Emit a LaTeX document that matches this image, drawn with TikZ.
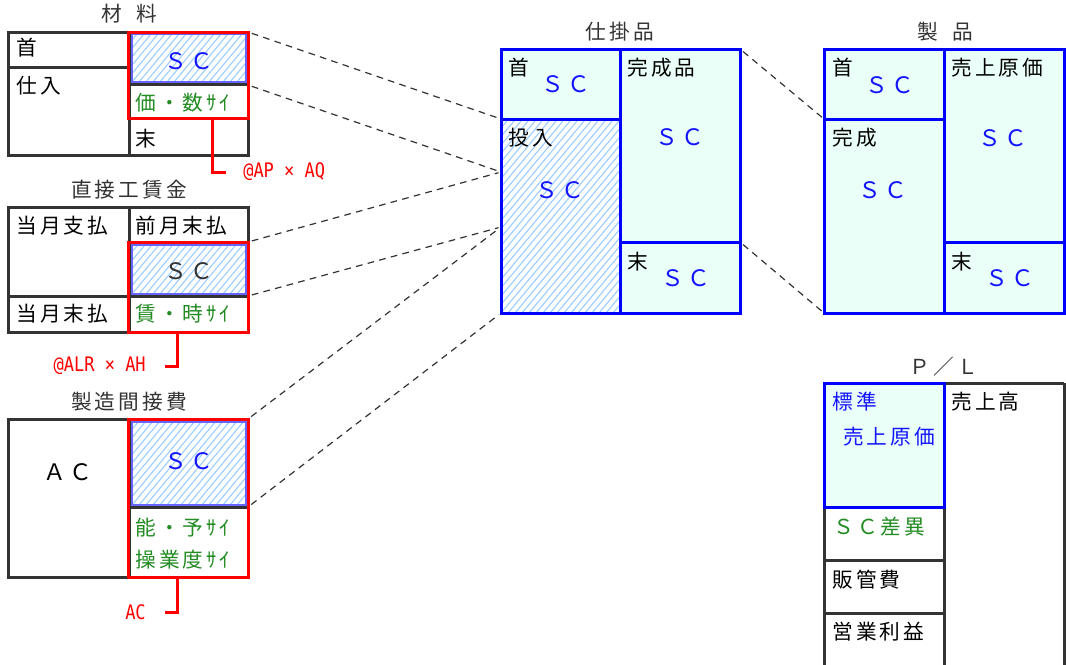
\documentclass[tikz,border=0pt]{standalone}
\usepackage{fontspec}
\usepackage{xcolor}
\usepackage{tikz}
\usetikzlibrary{calc}
\setmainfont[LetterSpace=15]{Noto Sans CJK JP}
\newfontfamily\costfont[FakeStretch=0.85]{DejaVu Sans Mono}
\definecolor{boxgray}{RGB}{51, 51, 51}
\definecolor{scblue}{RGB}{20, 20, 255}
\definecolor{varigreen}{RGB}{34, 139, 34}
\definecolor{costred}{RGB}{255, 0, 0}
\definecolor{mint}{RGB}{234, 255, 248}
\definecolor{hatchblue}{RGB}{153, 204, 255}
\definecolor{hatchedge}{RGB}{102, 102, 255}

\tikzset{
	txt/.style = {inner sep = 0pt, font = \fontsize{15.5}{15.5}\selectfont, text = black},
	lbl/.style = {txt, anchor = west},
	sc/.style = {txt, text = scblue, font = \fontsize{17}{17}\selectfont},
	grn/.style = {lbl, text = varigreen},
	ttl/.style = {txt, text = boxgray},
	cost/.style = {inner sep = 0pt, font = \costfont\fontsize{15}{15}\selectfont, text = costred},
	account/.style = {draw = boxgray, line width = 2.25pt},
	wipbox/.style = {draw = blue, line width = 2.25pt},
	redbox/.style = {draw = costred, line width = 2.25pt},
	hatched/.style = {path picture = {
		\foreach \k in {-25,...,19}
			\draw[hatchblue, line width = 0.8pt] ($(path picture bounding box.south west)+(\k*7,0)$) -- ++(170,-204);
	}},
	hatchline/.style = {draw = hatchedge, line width = 1.5pt},
	link/.style = {draw = boxgray, line width = 0.9pt, dash pattern = on 5pt off 4pt, shorten < = 3pt, shorten > = 2pt},
	tick/.style = {draw = costred, line width = 2.25pt}
}

\begin{document}
\begin{tikzpicture}[x = 0.75pt, y = -0.75pt]
	\clip (0,0) rectangle (1066,664);
	\fill[white] (0,0) rectangle (1066,664);

	% materials
	\node (matTitle) at (129,14) [ttl] {材\hspace{0.7em}料};
	\draw[account] (8,32) rectangle (248,155);
	\draw[account] (129,32) -- (129,155);
	\draw[account] (8,67) -- (129,67);
	\path[hatched, hatchline] (132,34) rectangle (246,82);
	\draw[account] (128,84) -- (248,84);
	\draw[redbox] (128,32) rectangle (248,118);
	\node (matHead) at (16,48) [lbl] {首};
	\node (matBuy) at (16,86) [lbl] {仕入};
	\node (matSC) at (189,61) [sc] {ＳＣ};
	\node (matVar) at (135,103) [grn] {価・数ｻｲ};
	\node (matEnd) at (135,139) [lbl] {末};
	\coordinate (matTick) at (212,118);
	\coordinate (matBend) at (226,172);
	\draw[tick] (matTick) |- (matBend);
	\node (matCost) at (243,172) [cost, anchor = west] {@AP × AQ};

	% direct labour
	\node (labTitle) at (129,190) [ttl] {直接工賃金};
	\draw[account] (8,207) rectangle (248,332);
	\draw[account] (129,207) -- (129,332);
	\draw[account] (8,296) -- (248,296);
	\path[hatched, hatchline] (132,245) rectangle (246,294);
	\draw[redbox] (128,242) rectangle (248,332);
	\node (labPaid) at (16,226) [lbl] {当月支払};
	\node (labPrev) at (135,226) [lbl] {前月末払};
	\node (labSC) at (189,271) [sc, text = boxgray] {ＳＣ};
	\node (labDue) at (16,314) [lbl] {当月末払};
	\node (labVar) at (135,314) [grn] {賃・時ｻｲ};
	\coordinate (labTick) at (177,332);
	\coordinate (labBend) at (165,366);
	\draw[tick] (labTick) |- (labBend);
	\node (labCost) at (146,366) [cost, anchor = east] {@ALR × AH};

	% overhead
	\node (ovhTitle) at (129,402) [ttl] {製造間接費};
	\draw[account] (8,419) rectangle (248,577);
	\draw[account] (129,419) -- (129,577);
	\path[hatched, hatchline] (132,422) rectangle (246,505);
	\draw[account] (128,507) -- (248,507);
	\draw[redbox] (128,419) rectangle (248,577);
	\node (ovhAC) at (68,472) [sc, text = black] {ＡＣ};
	\node (ovhSC) at (189,461) [sc] {ＳＣ};
	\node (ovhCap) at (135,528) [grn] {能・予ｻｲ};
	\node (ovhOp) at (135,560) [grn] {操業度ｻｲ};
	\coordinate (ovhTick) at (177,577);
	\coordinate (ovhBend) at (165,612);
	\draw[tick] (ovhTick) |- (ovhBend);
	\node (ovhCost) at (146,612) [cost, anchor = east] {AC};

	% work in process
	\node (wipTitle) at (620,32) [ttl] {仕掛品};
	\fill[mint] (501,49) rectangle (740,313);
	\path[fill = white, hatched] (501,119) rectangle (620,313);
	\draw[wipbox] (501,49) rectangle (740,313);
	\draw[wipbox] (620,49) -- (620,313);
	\draw[wipbox] (501,119) -- (620,119);
	\draw[wipbox] (620,242) -- (740,242);
	\node (wipHead) at (508,68) [lbl] {首};
	\node (wipHeadSC) at (566,84) [sc] {ＳＣ};
	\node (wipIn) at (508,138) [lbl] {投入};
	\node (wipInSC) at (560,190) [sc] {ＳＣ};
	\node (wipDone) at (627,68) [lbl] {完成品};
	\node (wipDoneSC) at (680,137) [sc] {ＳＣ};
	\node (wipEnd) at (627,262) [lbl] {末};
	\node (wipEndSC) at (686,278) [sc] {ＳＣ};

	% finished goods
	\node (finTitle) at (945,32) [ttl] {製\hspace{0.7em}品};
	\fill[mint] (824,49) rectangle (1064,313);
	\draw[wipbox] (824,49) rectangle (1064,313);
	\draw[wipbox] (944,49) -- (944,313);
	\draw[wipbox] (824,119) -- (944,119);
	\draw[wipbox] (944,242) -- (1064,242);
	\node (finHead) at (832,68) [lbl] {首};
	\node (finHeadSC) at (890,85) [sc] {ＳＣ};
	\node (finIn) at (832,138) [lbl] {完成};
	\node (finInSC) at (883,190) [sc] {ＳＣ};
	\node (finCost) at (951,68) [lbl] {売上原価};
	\node (finCostSC) at (1003,138) [sc] {ＳＣ};
	\node (finEnd) at (951,262) [lbl] {末};
	\node (finEndSC) at (1010,278) [sc] {ＳＣ};

	% P/L
	\node (plTitle) at (944,367) [ttl] {Ｐ／Ｌ};
	\fill[mint] (824,383) rectangle (944,507);
	\draw[account] (824,383) -- (1064,383);
	\draw[account] (824,383) -- (824,670);
	\draw[account] (944,383) -- (944,670);
	\draw[account] (1064,383) -- (1064,670);
	\draw[account] (824,560) -- (944,560);
	\draw[account] (824,613) -- (944,613);
	\draw[wipbox] (824,383) rectangle (944,507);
	\node (plStd) at (832,402) [lbl, text = scblue] {標準};
	\node (plStdCost) at (889,437) [txt, text = scblue] {売上原価};
	\node (plVar) at (833,527) [grn] {ＳＣ差異};
	\node (plSga) at (832,580) [lbl] {販管費};
	\node (plProfit) at (832,632) [lbl] {営業利益};
	\node (plSales) at (951,402) [lbl] {売上高};

	% dashed links
	\coordinate (matTop) at (248,32);
	\coordinate (matMid) at (248,85);
	\coordinate (labTop) at (248,242);
	\coordinate (labMid) at (248,296);
	\coordinate (ovhTop) at (248,419);
	\coordinate (ovhMid) at (248,507);
	\coordinate (wipA) at (501,119);
	\coordinate (wipB) at (501,172);
	\coordinate (wipC) at (501,227);
	\coordinate (wipD) at (501,313);
	\coordinate (wipOutA) at (740,49);
	\coordinate (wipOutB) at (740,242);
	\coordinate (finA) at (824,119);
	\coordinate (finB) at (824,313);
	\draw[link] (matTop) -- (wipA);
	\draw[link] (matMid) -- (wipB);
	\draw[link] (labTop) -- (wipB);
	\draw[link] (labMid) -- (wipC);
	\draw[link] (ovhTop) -- (wipC);
	\draw[link] (ovhMid) -- (wipD);
	\draw[link] (wipOutA) -- (finA);
	\draw[link] (wipOutB) -- (finB);
\end{tikzpicture}
\end{document}
